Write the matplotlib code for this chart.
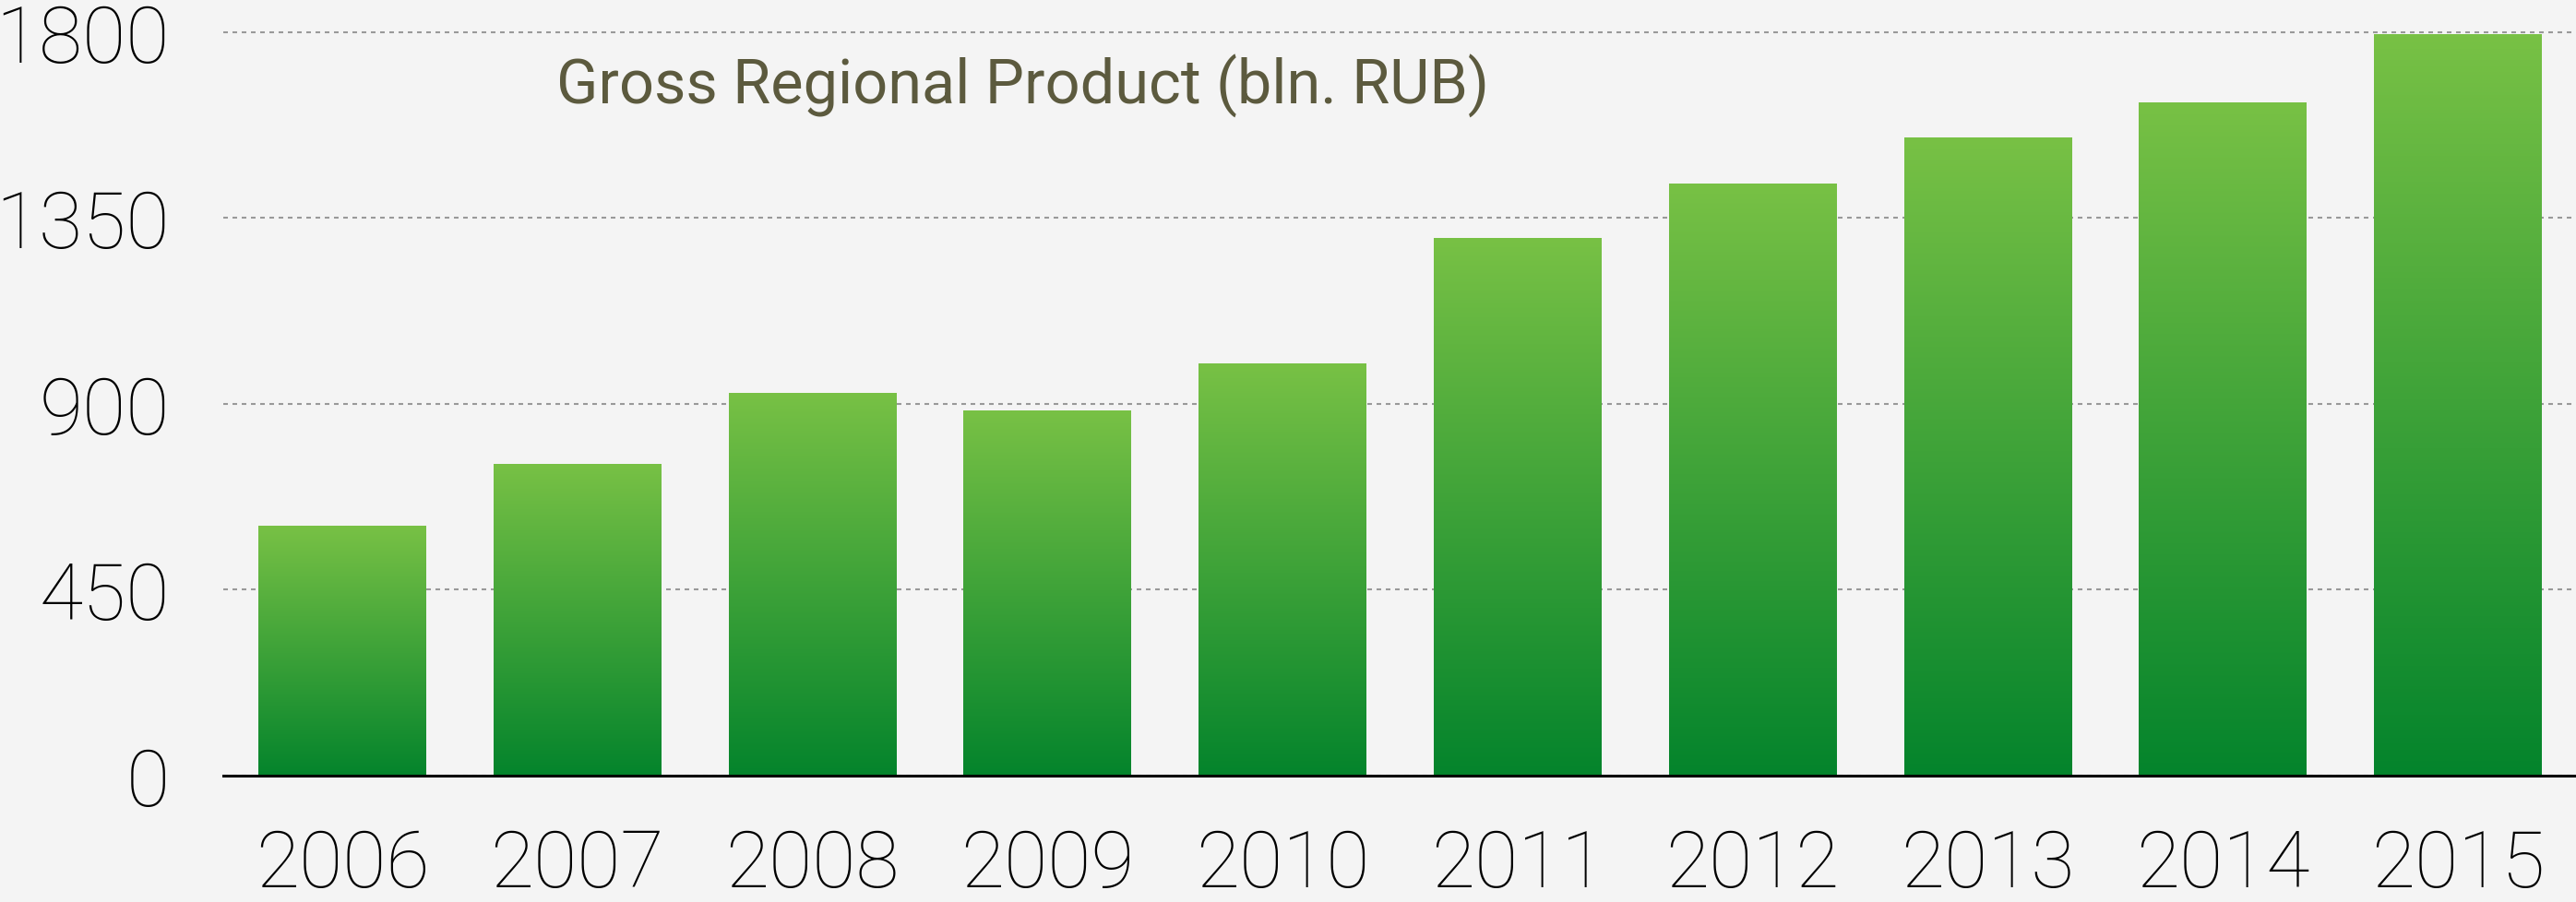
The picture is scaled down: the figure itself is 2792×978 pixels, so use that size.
import numpy as np
import matplotlib
matplotlib.use("Agg")
import matplotlib.pyplot as plt
from matplotlib.colors import LinearSegmentedColormap

# Datos
years = ["2006", "2007", "2008", "2009", "2010", "2011", "2012", "2013", "2014", "2015"]
grp = [605, 755, 927, 884, 998, 1302, 1434, 1545, 1630, 1795]
yticks = [0, 450, 900, 1350, 1800]
title = "Gross Regional Product (bln. RUB)"

bg = "#f4f4f4"
top_col = "#78c145"
bot_col = "#04842c"

plt.rcParams["font.family"] = ["Roboto", "DejaVu Sans"]
plt.rcParams["lines.scale_dashes"] = False

fig = plt.figure(figsize=(27.92, 9.79), dpi=100, facecolor=bg)
ax = fig.add_axes([242 / 2792, 1 - 842 / 979, 1 - 242 / 2792, 842 / 979])
ax.set_facecolor(bg)

x = np.arange(len(years))
bars = ax.bar(x, grp, width=0.714, color="none", edgecolor="none", zorder=2)

# Degradado vertical en cada barra
cmap = LinearSegmentedColormap.from_list("verde", [bot_col, top_col])
grad = np.linspace(0, 1, 256).reshape(-1, 1)
for b in bars:
    x0, y0 = b.get_x(), b.get_y()
    w, h = b.get_width(), b.get_height()
    im = ax.imshow(grad, cmap=cmap, aspect="auto", origin="lower",
                   extent=[x0, x0 + w, y0, y0 + h], zorder=2)
    im.set_clip_path(b)

ax.set_xlim(-0.506, 9.502)
ax.set_ylim(0, 1880)

ax.set_xticks(x)
ax.set_xticklabels(years)
ax.set_yticks(yticks)
ax.set_yticklabels([str(v) for v in yticks])
ax.tick_params(axis="both", length=0, labelsize=62, labelcolor="black")
ax.tick_params(axis="y", pad=42)
ax.tick_params(axis="x", pad=40)
for lab in ax.get_xticklabels() + ax.get_yticklabels():
    lab.set_fontweight("light")

ax.set_axisbelow(True)
ax.yaxis.grid(True, color="#999999", linewidth=1.5, linestyle=(0, (3.6, 3.6)))
ax.xaxis.grid(False)
for s in ["top", "right", "left"]:
    ax.spines[s].set_visible(False)
ax.spines["bottom"].set_color("black")
ax.spines["bottom"].set_linewidth(2.2)
ax.spines["bottom"].set_zorder(3)

fig.text(603 / 2792, 1 - 113 / 979, title, fontsize=48, color="#5c5a3e",
         ha="left", va="baseline")

fig.savefig("out.png", dpi=100, facecolor=bg)
